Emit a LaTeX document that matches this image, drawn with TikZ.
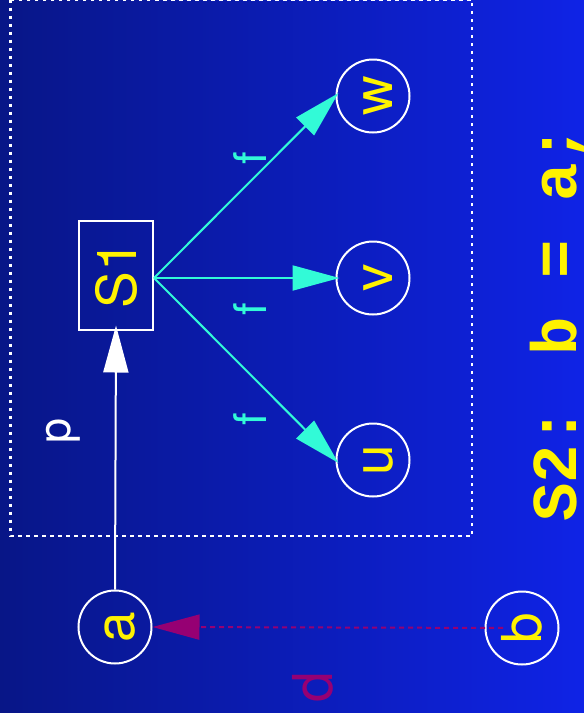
\documentclass[tikz,border=0pt]{standalone}
\usepackage{fontspec}
\setmainfont{TeX Gyre Heros}
\newfontfamily\monofont{Liberation Mono}
\usetikzlibrary{arrows.meta}
\definecolor{bgl}{RGB}{8,22,135}
\definecolor{bgr}{RGB}{15,35,230}
\definecolor{cyanedge}{RGB}{50,250,215}
\definecolor{purp}{RGB}{150,0,115}
\tikzset{
  circ/.style={circle, draw=white, line width=2pt, minimum size=73pt, inner sep=0pt,
    text=yellow, font=\fontsize{55}{60}\selectfont},
  stmtbox/.style={rectangle, draw=white, line width=2pt, minimum width=74pt,
    minimum height=109pt, inner sep=0pt, text=yellow, font=\fontsize{55}{60}\selectfont},
  tipa/.style={-{Triangle[length=47pt,width=25pt]}},
  fedge/.style={draw=cyanedge, line width=2pt, tipa, shorten >=-4pt},
  flabel/.style={rotate=90, text=cyanedge, inner sep=0pt, font=\fontsize{45}{50}\selectfont},
}
\begin{document}
\begin{tikzpicture}[x=1pt,y=-1pt]
\useasboundingbox (0,0) rectangle (584,713);
\clip (0,0) rectangle (584,713);
\shade[left color=bgl, right color=bgr] (0,0) rectangle (584,713);
% cluster
\draw[white, line width=2.5pt, dash pattern=on 3.5pt off 4.5pt] (10.5,-0.5) rectangle (472,536);
\node[rotate=90, text=white, inner sep=0pt, font=\fontsize{45}{50}\selectfont] (pl) at (63.5,431) {p};
% nodes
\node[stmtbox] (S1) at (116,275) {\rotatebox{90}{S1}};
\node[circ] (w) at (373,96) {\rotatebox{90}{\vphantom{b}w}};
\node[circ] (v) at (373,278) {\rotatebox{90}{\vphantom{b}v}};
\node[circ] (u) at (373,460) {\rotatebox{90}{\vphantom{b}u}};
\node[circ] (a) at (115,627) {\rotatebox{90}{\vphantom{b}a}};
\node[circ] (b) at (522,628) {\rotatebox{90}{b}};
\coordinate (s1out) at (S1.east |- v.west);
% edges
\draw[white, line width=2pt, tipa, shorten >=-5pt] (a.north) -- (S1.south);
\draw[fedge] (s1out) -- (w.west);
\draw[fedge] (s1out) -- (v.west);
\draw[fedge] (s1out) -- (u.west);
\node[flabel] (f1) at (250.5,158) {f};
\node[flabel] (f2) at (250.5,309) {f};
\node[flabel] (f3) at (250.5,419) {f};
\draw[purp, line width=2pt, dash pattern=on 5pt off 4pt, tipa, shorten <=19pt] (b.center) -- (a.east);
\node[rotate=90, text=purp, inner sep=0pt, font=\fontsize{55}{60}\selectfont] (dl) at (313,687) {d};
% statement text
\node[rotate=90, anchor=base west, inner sep=0pt, text=yellow,
  font=\monofont\bfseries\fontsize{64}{70}\selectfont] (s2) at (576,522) {S2: b = a;};
\end{tikzpicture}
\end{document}
